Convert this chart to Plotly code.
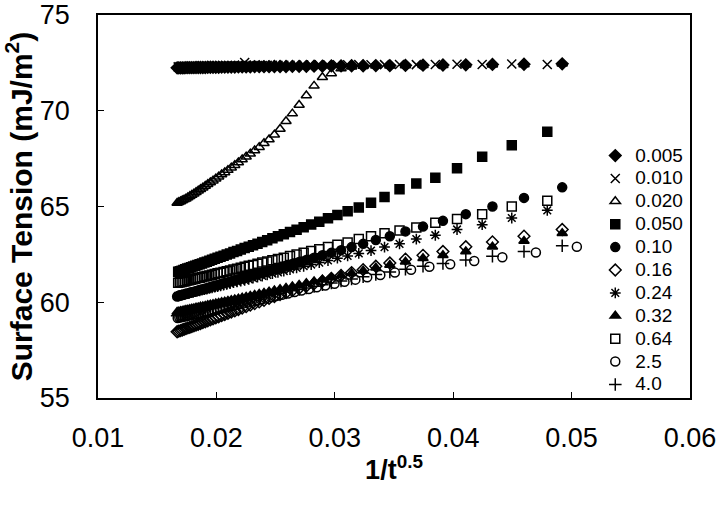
import math
import plotly.graph_objects as go

# sampling times (s); the x axis is 1/t^0.5
t_a = [413, 473, 533, 593, 653, 713, 773, 833, 893, 953,
       1013, 1073, 1133, 1193, 1253, 1313, 1373, 1433, 1493, 1553,
       1613, 1673, 1733, 1793, 1853, 1913, 1973, 2033, 2093, 2153,
       2213, 2273, 2333, 2393, 2453, 2513, 2573, 2633, 2693, 2753,
       2813, 2873, 2933, 2993, 3053, 3113, 3173, 3233, 3293, 3353,
       3413, 3473, 3533, 3593]
t_b = [435, 495, 555, 615, 675, 735, 795, 855, 915, 975,
       1035, 1095, 1155, 1215, 1275, 1335, 1395, 1455, 1515, 1575,
       1635, 1695, 1755, 1815, 1875, 1935, 1995, 2055, 2115, 2175,
       2235, 2295, 2355, 2415, 2475, 2535, 2595, 2655, 2715, 2775,
       2835, 2895, 2955, 3015, 3075, 3135, 3195, 3255, 3315, 3375,
       3435, 3495, 3555]
t_c = [393, 453, 513, 573, 633, 693, 753, 813, 873, 933,
       993, 1053, 1113, 1173, 1233, 1293, 1353, 1413, 1473, 1533,
       1593, 1653, 1713, 1773, 1833, 1893, 1953, 2013, 2073, 2133,
       2193, 2253, 2313, 2373, 2433, 2493, 2553, 2613, 2673, 2733,
       2793, 2853, 2913, 2973, 3033, 3093, 3153, 3213, 3273, 3333,
       3393, 3453, 3513, 3573]

y_0005 = [72.45, 72.43, 72.42, 72.40, 72.39, 72.38, 72.37, 72.36, 72.36, 72.35,
          72.35, 72.34, 72.34, 72.33, 72.33, 72.32, 72.32, 72.32, 72.31, 72.31,
          72.31, 72.30, 72.30, 72.30, 72.30, 72.29, 72.29, 72.29, 72.29, 72.28,
          72.28, 72.28, 72.28, 72.28, 72.27, 72.27, 72.27, 72.27, 72.27, 72.26,
          72.26, 72.26, 72.26, 72.26, 72.25, 72.25, 72.25, 72.25, 72.25, 72.24,
          72.24, 72.24, 72.24, 72.24]
y_0010 = [72.42, 72.44, 72.42, 72.43, 72.42, 72.41, 72.42, 72.41, 72.40, 72.41,
          72.40, 72.40, 72.39, 72.40, 72.39, 72.39, 72.38, 72.38, 72.38, 72.37,
          72.37, 72.37, 72.36, 72.36, 72.36, 72.35, 72.52, 72.35, 72.35, 72.34,
          72.34, 72.34, 72.34, 72.33, 72.33, 72.33, 72.33, 72.32, 72.32, 72.32,
          72.32, 72.31, 72.31, 72.31, 72.31, 72.30, 72.30, 72.30, 72.30, 72.30,
          72.29, 72.29, 72.29]
y_0020 = [72.45, 72.42, 72.40, 72.40, 72.38, 72.37, 72.36, 72.35, 72.35, 72.34,
          72.30, 72.20, 71.95, 71.75, 71.30, 70.80, 70.30, 69.85, 69.45, 69.05,
          68.75, 68.50, 68.30, 68.10, 67.92, 67.75, 67.60, 67.45, 67.30, 67.16,
          67.03, 66.90, 66.78, 66.67, 66.56, 66.45, 66.35, 66.25, 66.16, 66.07,
          65.98, 65.90, 65.82, 65.74, 65.67, 65.60, 65.53, 65.47, 65.41, 65.36,
          65.31, 65.26, 65.22, 65.18]
y_0050 = [68.90, 68.20, 67.60, 67.00, 66.50, 66.20, 65.90, 65.50, 65.20, 64.95,
          64.75, 64.55, 64.38, 64.21, 64.06, 63.92, 63.79, 63.67, 63.55, 63.44,
          63.34, 63.24, 63.15, 63.06, 62.98, 62.90, 62.83, 62.75, 62.68, 62.62,
          62.55, 62.49, 62.43, 62.38, 62.32, 62.27, 62.22, 62.17, 62.12, 62.08,
          62.03, 61.99, 61.95, 61.91, 61.87, 61.83, 61.79, 61.76, 61.72, 61.69,
          61.65, 61.62, 61.59]
y_010 = [66.00, 65.45, 65.00, 64.60, 64.25, 63.95, 63.70, 63.45, 63.25, 63.05,
         62.88, 62.72, 62.58, 62.45, 62.32, 62.21, 62.10, 62.00, 61.91, 61.82,
         61.73, 61.66, 61.58, 61.51, 61.44, 61.38, 61.32, 61.26, 61.20, 61.15,
         61.10, 61.05, 61.00, 60.96, 60.91, 60.87, 60.83, 60.79, 60.75, 60.72,
         60.68, 60.65, 60.61, 60.58, 60.55, 60.52, 60.49, 60.46, 60.43, 60.41,
         60.38, 60.35, 60.33, 60.30]
y_016 = [63.80, 63.45, 63.15, 62.90, 62.65, 62.45, 62.25, 62.05, 61.88, 61.70,
         61.55, 61.40, 61.25, 61.10, 60.97, 60.85, 60.73, 60.61, 60.50, 60.40,
         60.30, 60.20, 60.10, 60.02, 59.93, 59.85, 59.77, 59.70, 59.62, 59.55,
         59.49, 59.42, 59.36, 59.30, 59.24, 59.19, 59.13, 59.08, 59.03, 58.98,
         58.94, 58.89, 58.85, 58.81, 58.77, 58.73, 58.69, 58.66, 58.62, 58.59,
         58.55, 58.52, 58.49, 58.46]
y_024 = [64.80, 64.40, 64.05, 63.80, 63.50, 63.30, 63.05, 62.88, 62.70, 62.55,
         62.42, 62.30, 62.18, 62.07, 61.97, 61.88, 61.79, 61.71, 61.63, 61.56,
         61.49, 61.43, 61.37, 61.31, 61.26, 61.20, 61.15, 61.11, 61.06, 61.02,
         60.97, 60.93, 60.89, 60.86, 60.82, 60.79, 60.75, 60.72, 60.69, 60.66,
         60.63, 60.60, 60.58, 60.55, 60.52, 60.50, 60.47, 60.45, 60.43, 60.40,
         60.38, 60.36, 60.34]
y_032 = [63.60, 63.20, 62.90, 62.65, 62.45, 62.30, 62.12, 61.95, 61.80, 61.65,
         61.52, 61.40, 61.29, 61.18, 61.08, 60.99, 60.90, 60.82, 60.75, 60.68,
         60.61, 60.55, 60.49, 60.43, 60.38, 60.33, 60.28, 60.23, 60.19, 60.15,
         60.11, 60.07, 60.03, 60.00, 59.96, 59.93, 59.90, 59.87, 59.84, 59.81,
         59.78, 59.76, 59.73, 59.71, 59.68, 59.66, 59.64, 59.61, 59.59, 59.57,
         59.55, 59.53, 59.51, 59.49]
y_064 = [65.30, 65.00, 64.60, 64.35, 64.15, 63.90, 63.75, 63.60, 63.45, 63.30,
         63.12, 63.00, 62.88, 62.77, 62.67, 62.58, 62.49, 62.41, 62.33, 62.26,
         62.19, 62.13, 62.07, 62.01, 61.95, 61.90, 61.85, 61.80, 61.75, 61.71,
         61.66, 61.62, 61.58, 61.54, 61.51, 61.47, 61.44, 61.40, 61.37, 61.34,
         61.31, 61.28, 61.26, 61.23, 61.20, 61.18, 61.15, 61.13, 61.10, 61.08,
         61.06, 61.04, 61.02]
y_25 = [62.90, 62.60, 62.35, 62.15, 61.98, 61.85, 61.70, 61.55, 61.42, 61.30,
        61.18, 61.07, 60.97, 60.87, 60.78, 60.69, 60.61, 60.53, 60.46, 60.39,
        60.32, 60.26, 60.20, 60.14, 60.09, 60.04, 59.99, 59.94, 59.89, 59.85,
        59.81, 59.77, 59.73, 59.69, 59.66, 59.62, 59.59, 59.56, 59.53, 59.50,
        59.47, 59.44, 59.42, 59.39, 59.37, 59.34, 59.32, 59.30, 59.28, 59.26,
        59.24, 59.22, 59.20, 59.18]
y_40 = [62.95, 62.65, 62.40, 62.20, 62.02, 61.88, 61.72, 61.58, 61.45, 61.33,
        61.22, 61.11, 61.01, 60.92, 60.83, 60.75, 60.67, 60.60, 60.53, 60.46,
        60.40, 60.34, 60.28, 60.23, 60.18, 60.13, 60.08, 60.03, 59.99, 59.95,
        59.91, 59.87, 59.83, 59.80, 59.76, 59.73, 59.70, 59.67, 59.64, 59.61,
        59.58, 59.56, 59.53, 59.51, 59.48, 59.46, 59.44, 59.42, 59.40, 59.38,
        59.36, 59.34, 59.32, 59.30]

x_ticks = [0.01, 0.02, 0.03, 0.04, 0.05, 0.06]
y_ticks = [55, 60, 65, 70, 75]

series = [
    ("0.005", t_a, y_0005, "diamond"),
    ("0.010", t_b, y_0010, "x-thin-open"),
    ("0.020", t_a, y_0020, "triangle-up-open"),
    ("0.050", t_b, y_0050, "square"),
    ("0.10", t_a, y_010, "circle"),
    ("0.16", t_a, y_016, "diamond-open"),
    ("0.24", t_b, y_024, "asterisk-open"),
    ("0.32", t_a, y_032, "triangle-up"),
    ("0.64", t_b, y_064, "square-open"),
    ("2.5", t_c, y_25, "circle-open"),
    ("4.0", t_a, y_40, "cross-thin-open"),
]

FONT = "Liberation Sans, Arial, sans-serif"
fig = go.Figure()
for name, ts, ys, sym in series:
    xs = [1.0 / math.sqrt(t) for t in ts]
    fig.add_trace(go.Scatter(
        x=xs, y=ys, mode="markers",
        name=f'<span style="font-size:19px">{name}</span>', legendgroup=name,
        marker=dict(symbol=sym, size=9, color="black",
                    line=dict(color="black", width=1.5)),
    ))

axis_common = dict(showline=True, linecolor="black", linewidth=1.5, mirror=True,
                   ticks="inside", ticklen=6, tickcolor="black", tickwidth=1,
                   showgrid=False, zeroline=False,
                   tickfont=dict(family=FONT, size=27, color="black"))
fig.update_xaxes(range=[0.01, 0.06], tickvals=x_ticks, ticktext=[f"{v:.2f}" for v in x_ticks],
                 ticklabelstandoff=15,
                 title=dict(text="<b>1/t<sup>0.5</sup></b>", font=dict(family=FONT, size=27, color="black"),
                            standoff=8),
                 **axis_common)
fig.update_yaxes(range=[55, 75], tickvals=y_ticks, ticktext=[str(v) for v in y_ticks],
                 ticklabelstandoff=21,
                 title=dict(text="<b>Surface Tension (mJ/m<sup>2</sup>)</b>",
                            font=dict(family=FONT, size=30, color="black"), standoff=3),
                 **axis_common)
fig.update_layout(
    width=720, height=508,
    margin=dict(l=98, r=30, t=15, b=110, autoexpand=False),
    paper_bgcolor="white", plot_bgcolor="white",
    font=dict(family=FONT, color="black"),
    legend=dict(x=0.84, y=0.676, xanchor="left", yanchor="top",
                font=dict(family=FONT, size=15.3, color="black"),
                bgcolor="rgba(0,0,0,0)", borderwidth=0, itemwidth=30,
                tracegroupgap=0),
)
fig.write_html("out.html", config={"displayModeBar": False},
               post_script="document.body.style.margin='0';document.body.style.overflow='hidden';")
